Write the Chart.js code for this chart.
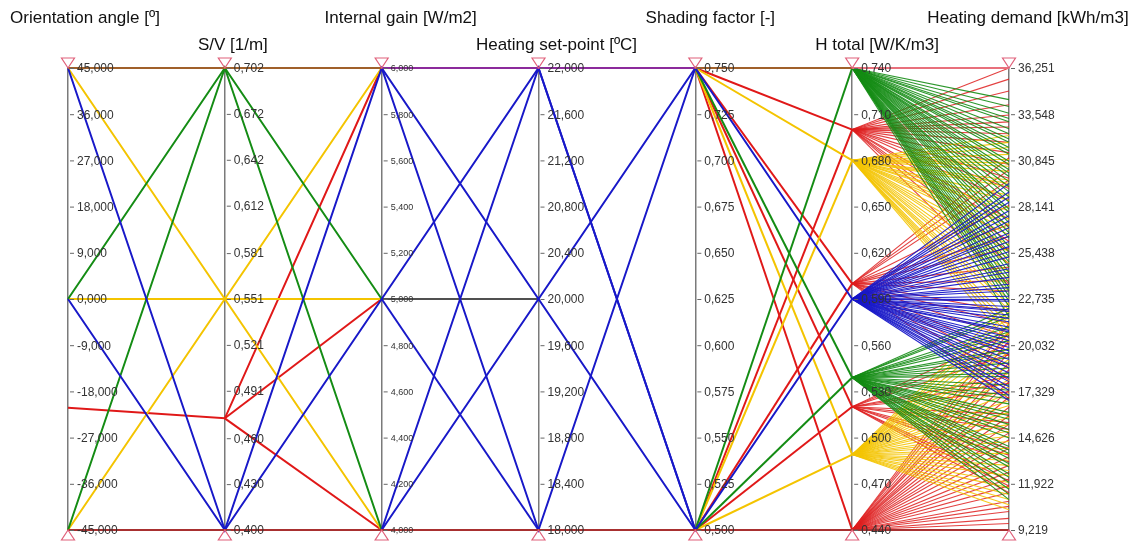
<!DOCTYPE html>
<html>
<head>
  <title>Parallel coordinates - heating demand</title>
  <script src="https://cdn.jsdelivr.net/npm/chart.js"></script>
  <style>
    body {
      margin: 0;
      background-color: white;
    }

    .chart-container {
      position: relative;
      width: 1134px;
      height: 541px;
    }
  </style>
</head>
<body>
  <div class="chart-container">
    <canvas id="pcChart"></canvas>
  </div>

  <script>
    // Axes of the parallel coordinates plot
    const axisNames = ['Orientation angle [º]', 'S/V [1/m]', 'Internal gain [W/m2]',
      'Heating set-point [ºC]', 'Shading factor [-]', 'H total [W/K/m3]', 'Heating demand [kWh/m3]'];
    const axisMin = [-45, 0.400, 4, 18, 0.500, 0.440, 9.219];
    const axisMax = [45, 0.702, 6, 22, 0.750, 0.740, 36.251];

    // Tick labels, top to bottom
    const ticksOrientation = [45, 36, 27, 18, 9, 0, -9, -18, -27, -36, -45];
    const ticksSV = [0.702, 0.672, 0.642, 0.612, 0.581, 0.551, 0.521, 0.491, 0.460, 0.430, 0.400];
    const ticksGain = [6.0, 5.8, 5.6, 5.4, 5.2, 5.0, 4.8, 4.6, 4.4, 4.2, 4.0];
    const ticksSetPoint = [22.0, 21.6, 21.2, 20.8, 20.4, 20.0, 19.6, 19.2, 18.8, 18.4, 18.0];
    const ticksShading = [0.750, 0.725, 0.700, 0.675, 0.650, 0.625, 0.600, 0.575, 0.550, 0.525, 0.500];
    const ticksHTotal = [0.740, 0.710, 0.680, 0.650, 0.620, 0.590, 0.560, 0.530, 0.500, 0.470, 0.440];
    const ticksDemand = [36.251, 33.548, 30.845, 28.141, 25.438, 22.735, 20.032, 17.329, 14.626, 11.922, 9.219];
    const tickValues = [ticksOrientation, ticksSV, ticksGain, ticksSetPoint, ticksShading, ticksHTotal, ticksDemand];

    // Left part of the plot: polylines through the parameter axes
    // [colour, orientation, S/V, gain, set-point, shading, H total, demand]
    const _ = null;
    const paths = [
      ['red', -21.2, 0.473, 6, _, _, _, _],
      ['red', _, 0.473, 5, _, _, _, _],
      ['red', _, 0.473, 4, _, _, _, _],
      ['red', _, _, _, _, 0.75, 0.70, _],
      ['red', _, _, _, _, 0.50, 0.70, _],
      ['red', _, _, _, _, 0.75, 0.60, _],
      ['red', _, _, _, _, 0.50, 0.60, _],
      ['red', _, _, _, _, 0.75, 0.52, _],
      ['red', _, _, _, _, 0.50, 0.52, _],
      ['red', _, _, _, _, 0.75, 0.44, _],
      ['yellow', 45, 0.551, 6, _, _, _, _],
      ['yellow', 0, 0.551, 5, _, _, _, _],
      ['yellow', -45, 0.551, 4, _, _, _, _],
      ['yellow', _, _, _, _, 0.75, 0.68, _],
      ['yellow', _, _, _, _, 0.50, 0.68, _],
      ['yellow', _, _, _, _, 0.75, 0.489, _],
      ['yellow', _, _, _, _, 0.50, 0.489, _],
      ['green', 0, 0.702, 5, _, _, _, _],
      ['green', -45, 0.702, 4, _, _, _, _],
      ['green', _, _, _, _, 0.50, 0.74, _],
      ['green', _, _, _, _, 0.75, 0.539, _],
      ['green', _, _, _, _, 0.50, 0.539, _],
      ['gray', _, _, 5, 20, _, _, _],
      ['blue', 45, 0.400, 6, 20, 0.75, 0.59, _],
      ['blue', 0, 0.400, 5, 22, 0.50, 0.59, _],
      ['blue', _, _, 6, 18, 0.75, _, _],
      ['blue', _, _, 5, 18, _, _, _],
      ['blue', _, _, 4, 22, 0.50, _, _],
      ['blue', _, _, 4, 20, 0.50, _, _],
      ['brown', 45, 0.702, 6, _, _, _, _],
      ['purple', _, _, 6, 22, 0.75, _, _],
      ['brown', _, _, _, _, 0.75, 0.74, _],
      ['pink', _, _, _, _, _, 0.74, 36.251],
      ['darkred', -45, 0.400, 4, 18, 0.50, 0.44, 9.219]
    ];

    // Right part: heating demand reached from each H total group
    const hGroups = [0.74, 0.70, 0.68, 0.60, 0.59, 0.539, 0.52, 0.489, 0.44];
    const hGroupColours = ['green', 'red', 'yellow', 'red', 'blue', 'green', 'red', 'yellow', 'red'];
    const demandH074 = [34.4, 34.0, 33.6, 33.3, 33.1, 32.7, 32.4, 32.1, 31.9, 31.6, 31.4, 31.2, 30.8, 30.6, 30.3,
      30.1, 29.9, 29.6, 29.3, 29.0, 28.7, 28.4, 28.0, 27.8, 27.5, 27.2, 26.9, 26.6, 26.3, 25.8, 25.5, 25.2, 24.9,
      24.6, 24.3, 24.0, 23.7, 23.4, 23.2, 22.9, 22.6, 22.3, 21.7];
    const demandH070 = [36.25, 35.6, 34.9, 34.1, 33.5, 33.1, 32.8, 32.4, 31.9, 31.3, 30.6, 29.8, 29.2, 28.5, 27.4,
      27.0, 26.1, 25.5, 24.8, 23.6];
    const demandH068 = [32.3, 31.9, 31.6, 31.2, 30.9, 30.7, 30.5, 30.2, 29.7, 29.5, 29.3, 28.8, 28.5, 28.1, 27.9,
      27.4, 27.1, 26.8, 26.5, 25.9, 25.5, 25.1, 24.8, 24.3, 23.9, 23.5, 23.2, 22.7, 22.4, 22.1, 21.5, 21.2, 20.9,
      20.6, 20.2];
    const demandH060 = [31.0, 30.3, 29.7, 28.2, 27.1, 26.4, 25.7, 24.6, 23.8, 23.2, 22.0, 21.3, 20.5, 19.4, 18.7,
      18.0, 16.9];
    const demandH059 = [29.5, 29.0, 28.7, 28.4, 27.9, 27.6, 27.3, 26.9, 26.6, 26.4, 26.1, 25.8, 25.5, 25.2, 24.8,
      24.5, 24.3, 24.0, 23.6, 23.4, 23.2, 22.9, 22.7, 22.6, 22.3, 22.1, 22.0, 21.8, 21.6, 21.4, 21.1, 20.9, 20.8,
      20.5, 20.3, 20.1, 19.9, 19.7, 19.5, 19.2, 18.9, 18.7, 18.4, 18.1, 17.9, 17.6, 17.4, 17.1, 16.8];
    const demandH054 = [22.2, 21.9, 21.7, 21.1, 20.8, 20.6, 20.3, 19.8, 19.6, 19.3, 19.0, 18.7, 18.4, 18.2, 17.7,
      17.4, 17.1, 16.9, 16.6, 16.1, 15.9, 15.7, 15.4, 15.1, 14.9, 14.6, 14.1, 13.9, 13.7, 13.4, 13.1, 12.9, 12.5,
      12.3, 12.0, 11.6, 11.3, 11.0];
    const demandH052 = [20.7, 20.1, 19.5, 18.2, 17.8, 17.3, 16.0, 15.5, 15.1, 14.0, 13.6, 13.2, 12.1, 11.8, 11.4];
    const demandH049 = [22.5, 22.0, 21.7, 21.2, 20.8, 20.4, 19.9, 19.6, 19.2, 18.8, 18.4, 18.0, 17.6, 17.2, 16.8,
      16.5, 16.1, 15.8, 15.4, 15.0, 14.7, 14.4, 14.0, 13.7, 13.3, 13.0, 12.7, 12.4, 12.0, 11.7, 11.3, 11.0, 10.7, 10.4];
    const demandH044 = [21.3, 20.8, 20.3, 19.6, 19.0, 18.6, 17.9, 17.4, 17.0, 16.4, 15.9, 15.4, 14.9, 14.5, 14.0,
      13.5, 13.0, 12.6, 12.2, 11.8, 11.4, 10.9, 10.6, 10.3, 9.9, 9.6];
    const demandByGroup = [demandH074, demandH070, demandH068, demandH060, demandH059, demandH054, demandH052, demandH049, demandH044];

    // Styles
    const colours = {
      red: '#e01818',
      yellow: '#f4c400',
      green: '#148c14',
      blue: '#1818c8',
      gray: '#505050',
      brown: '#a0602a',
      purple: '#8c2a9c',
      pink: '#e8707c',
      darkred: '#a83030'
    };
    const fanColours = {
      red: 'rgba(222, 30, 30, 0.85)',
      yellow: 'rgba(244, 196, 0, 0.9)',
      green: 'rgba(20, 140, 20, 0.9)',
      blue: 'rgba(24, 24, 200, 0.95)'
    };
    const fanDrawOrder = ['red', 'yellow', 'green', 'blue'];
    const titleOffsets = [17, 8, 19, 18, 15, 25, 19];
    const FONT = '"Liberation Sans", Arial, sans-serif';

    function norm(i, v) {
      return (v - axisMin[i]) / (axisMax[i] - axisMin[i]);
    }

    function fmt(v) {
      return v.toFixed(3).replace('.', ',');
    }

    // Build datasets; later datasets are drawn on top
    const datasets = [];
    let layer = 0;

    function addLine(values, colour, width) {
      const pts = [];
      values.forEach((v, i) => {
        if (v !== null) pts.push({ x: i, y: norm(i, v) });
      });
      datasets.push({
        data: pts,
        borderColor: colour,
        borderWidth: width,
        pointRadius: 0,
        tension: 0,
        fill: false,
        clip: false,
        order: -(layer++)
      });
    }

    for (const fc of fanDrawOrder) {
      hGroups.forEach((h, g) => {
        if (hGroupColours[g] !== fc) return;
        for (const d of demandByGroup[g]) {
          addLine([_, _, _, _, _, h, d], fanColours[fc], 1.1);
        }
      });
    }

    for (const p of paths) {
      addLine(p.slice(1), colours[p[0]], 2);
    }

    // One y axis per parameter, placed at its x position
    const scales = {
      x: { type: 'linear', min: 0, max: 6, display: false },
      y: { min: 0, max: 1, display: false }
    };
    axisNames.forEach((name, i) => {
      scales['ax' + i] = {
        type: 'linear',
        axis: 'y',
        position: { x: i },
        min: axisMin[i],
        max: axisMax[i],
        ticks: { display: false },
        grid: { drawOnChartArea: false, drawTicks: false },
        border: { display: true, color: '#7a7a7a', width: 1.5 }
      };
    });

    // Tick labels, filter triangles and axis titles
    const overlay = {
      id: 'overlay',
      afterDatasetsDraw(chart) {
        const ctx = chart.ctx;
        ctx.save();
        axisNames.forEach((name, i) => {
          const s = chart.scales['ax' + i];
          const x = chart.scales.x.getPixelForValue(i);

          ctx.font = (i === 2 ? '9px ' : '12px ') + FONT;
          ctx.textAlign = 'left';
          ctx.textBaseline = 'middle';
          ctx.lineWidth = 1;
          for (const v of tickValues[i]) {
            const y = s.getPixelForValue(v);
            ctx.strokeStyle = '#666';
            ctx.beginPath();
            ctx.moveTo(x + 2, y + 0.5);
            ctx.lineTo(x + 6, y + 0.5);
            ctx.stroke();
            ctx.fillStyle = '#333';
            ctx.fillText(fmt(v), x + 9, y + 1);
          }

          const top = s.getPixelForValue(axisMax[i]);
          const bottom = s.getPixelForValue(axisMin[i]);
          ctx.strokeStyle = '#e0607a';
          ctx.lineWidth = 1.2;
          ctx.beginPath();
          ctx.moveTo(x - 6.5, top - 10);
          ctx.lineTo(x + 6.5, top - 10);
          ctx.lineTo(x, top);
          ctx.closePath();
          ctx.stroke();
          ctx.beginPath();
          ctx.moveTo(x - 6.5, bottom + 10);
          ctx.lineTo(x + 6.5, bottom + 10);
          ctx.lineTo(x, bottom);
          ctx.closePath();
          ctx.stroke();

          ctx.font = '17px ' + FONT;
          ctx.fillStyle = '#111';
          ctx.textAlign = 'center';
          ctx.fillText(name, x + titleOffsets[i], i % 2 === 0 ? 18 : 45);
        });
        ctx.restore();
      }
    };

    document.addEventListener('DOMContentLoaded', function() {
      const ctx = document.getElementById('pcChart').getContext('2d');
      new Chart(ctx, {
        type: 'line',
        data: { datasets: datasets },
        options: {
          responsive: true,
          maintainAspectRatio: false,
          animation: false,
          events: [],
          layout: { padding: { left: 68, right: 125, top: 68, bottom: 11 } },
          scales: scales,
          plugins: {
            legend: { display: false },
            tooltip: { enabled: false }
          }
        },
        plugins: [overlay]
      });
    });
  </script>
</body>
</html>
